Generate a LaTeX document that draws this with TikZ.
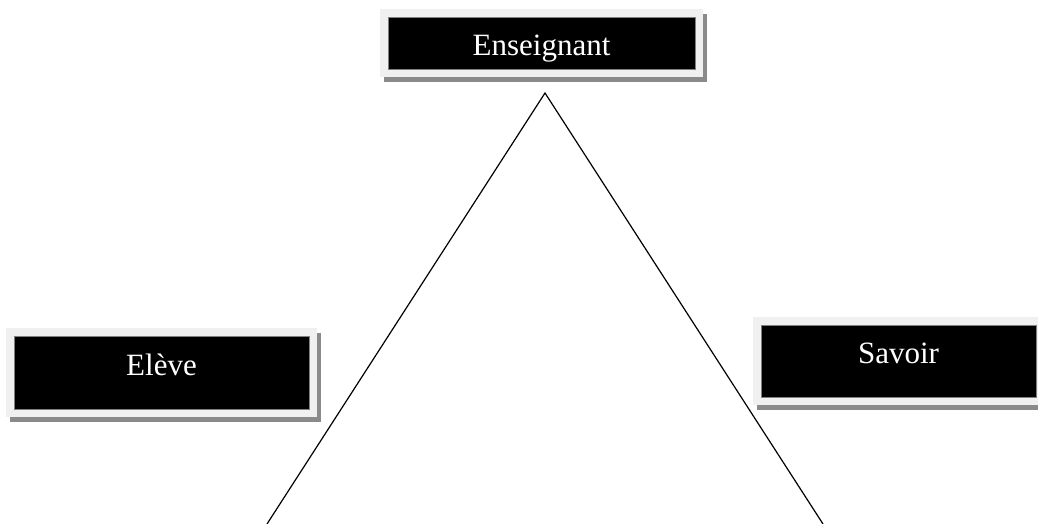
\documentclass[tikz,border=0pt]{standalone}
\usepackage{fontspec}
\setmainfont{Liberation Serif}
\usetikzlibrary{shadows}
\definecolor{framegray}{HTML}{F0F0F0}
\definecolor{shadowgray}{HTML}{8A8A8A}
\definecolor{rimgray}{HTML}{808080}

\begin{document}
\begin{tikzpicture}[x=1pt,y=-1pt,
      boite/.style={rectangle,fill=framegray,inner sep=0pt,
        font=\fontsize{31}{36}\selectfont,text=white,
        text height=21pt,text depth=16pt,
        drop shadow={shadow xshift=4pt,shadow yshift=-5pt,fill=shadowgray,opacity=1},
        path picture={\draw[rimgray,fill=black,line width=0.8pt]
          ([shift={(8pt,8pt)}]path picture bounding box.south west) rectangle
          ([shift={(-8pt,-8pt)}]path picture bounding box.north east);}},
      side/.style={line width=1.2pt}]
  \useasboundingbox (0,0) rectangle (1038,524);
  \node[boite,minimum width=323pt,minimum height=68pt,
        text height=26pt,text depth=0pt] (ens) at (541.5,43) {Enseignant};
  \node[boite,minimum width=311pt,minimum height=89pt] (eleve) at (161.5,372.5) {Elève};
  \node[boite,minimum width=291pt,minimum height=88pt] (savoir) at (898.5,361) {Savoir};
  \coordinate (sommet) at (545,93);
  \coordinate (basg) at (267,524);
  \coordinate (basd) at (823,524);
  \draw[side] (basg) -- (sommet) -- (basd);
\end{tikzpicture}
\end{document}
